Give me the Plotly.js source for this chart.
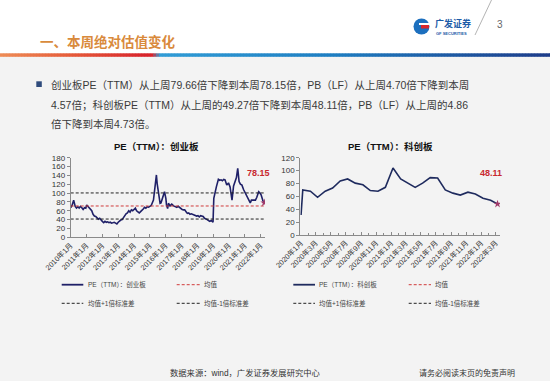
<!DOCTYPE html>
<html><head><meta charset="utf-8">
<script src="https://cdn.plot.ly/plotly-3.0.1.min.js"></script>
<style>html,body{margin:0;padding:0;background:#F3F3F3;}#chart{width:550px;height:381px;}</style>
</head><body><div id="chart"></div>
<script>
// ---------------- DATA ----------------
const cybDates = ['2010-01-04','2010-02-01','2010-03-10','2010-03-25','2010-04-15','2010-05-15','2010-06-15','2010-07-15','2010-08-15','2010-09-15','2010-10-15','2010-11-15','2010-12-15',
'2011-01-05','2011-02-01','2011-03-01','2011-04-01','2011-05-01','2011-06-01','2011-07-01','2011-08-01','2011-09-01','2011-10-01','2011-11-01','2011-12-01',
'2012-01-01','2012-02-01','2012-03-01','2012-04-01','2012-05-01','2012-06-01','2012-07-01','2012-08-01','2012-09-01','2012-10-01','2012-11-01','2012-12-01',
'2013-01-01','2013-02-01','2013-03-01','2013-04-01','2013-05-01','2013-06-01','2013-07-01','2013-08-01','2013-09-01','2013-10-01','2013-11-01','2013-12-01',
'2014-01-01','2014-02-01','2014-03-01','2014-04-01','2014-05-01','2014-06-01','2014-07-01','2014-08-01','2014-09-01','2014-10-01','2014-11-01','2014-12-01',
'2015-01-01','2015-02-01','2015-03-25','2015-05-01','2015-06-01','2015-06-20','2015-07-15','2015-08-10','2015-08-25','2015-09-15','2015-10-01','2015-11-01','2015-12-05',
'2016-01-05','2016-01-20','2016-02-15','2016-03-05','2016-04-10','2016-05-20','2016-07-01','2016-08-15','2016-09-15','2016-10-15','2016-11-15','2016-12-15',
'2017-01-15','2017-02-15','2017-03-15','2017-04-15','2017-05-15','2017-06-15','2017-07-15','2017-08-15','2017-09-15','2017-10-15','2017-11-15','2017-12-15',
'2018-01-15','2018-02-15','2018-03-15','2018-04-15','2018-05-15','2018-06-15','2018-07-15','2018-08-15','2018-09-15','2018-10-15','2018-11-15','2018-12-28',
'2019-01-15','2019-02-15','2019-03-15','2019-05-01','2019-06-01','2019-07-01','2019-08-01','2019-09-01','2019-10-01','2019-11-10','2019-12-20',
'2020-01-25','2020-02-20','2020-03-10','2020-04-15','2020-05-25','2020-06-20','2020-07-20','2020-08-20','2020-09-20','2020-10-25','2020-12-01',
'2021-01-10','2021-02-25','2021-04-01','2021-05-05','2021-06-01','2021-07-01','2021-08-01','2021-09-01','2021-10-01','2021-11-15','2021-12-15',
'2022-01-10','2022-02-20','2022-03-25'];
const cybPE = [67,72,84,76,70,66,69,66,70,67,63,67,66,
73,70,68,64,60,52,48,47,44,41,43,38,
36,33,36,34,35,33,34,32,33,34,32,30,
34,37,39,40,45,50,53,55,60,57,62,60,
64,66,60,57,55,58,60,64,68,66,69,68,
70,72,84,110,141,120,107,90,77,78,84,92,103,
88,73,65,77,71,75,71,70,68,70,67,65,
63,62,62,58,54,55,52,53,52,50,49,48,
49,46,49,48,47,43,42,40,38,36,38,34,
88,105,114,131,129,130,128,131,130,118,123,
114,100,84,116,126,135,156,126,120,118,108,
100,92,86,78,84,84,85,84,90,103,100,
96,83,78.15];
const bandNames = ['均值','均值+1倍标准差','均值-1倍标准差'];
const cybBandValues = [70.8, 100.3, 41.3];

const kcbDates = ['2020-01-01','2020-01-08','2020-02-08','2020-03-08','2020-04-08','2020-05-08','2020-06-08','2020-07-08','2020-08-08','2020-09-08','2020-10-08','2020-11-08','2020-12-08',
'2021-01-08','2021-02-08','2021-03-08','2021-04-08','2021-05-08','2021-06-08','2021-07-08','2021-08-08','2021-09-08','2021-10-08','2021-11-08','2021-12-08',
'2022-01-08','2022-02-08','2022-03-08'];
const kcbPE = [31,70,68,58.5,68,73,84,87,80.5,78,69,68,74,104,87,81,74,80.5,89,88.5,70,65,62,66.5,63.5,57,54,48.11];

const chartTitles = ['PE（TTM）：创业板','PE（TTM）：科创板'];
const seriesNames = ['PE（TTM）：创业板','PE（TTM）：科创板'];

// ---------------- LAYOUT HELPERS ----------------
const W = 550, H = 381;
const px = x => x / W, py = y => 1 - y / H;
const latin = 'Liberation Sans, Arial, Noto Sans CJK SC, sans-serif';
const cjk = 'Noto Sans CJK SC, Liberation Sans, sans-serif';
const navy = '#1F2068', red = '#D03A3A';
const cybRange = ['2010-01-01','2022-04-10'];
const kcbRange = ['2019-12-29','2022-03-18'];

const traces = [];
traces.push({x: cybDates, y: cybPE, xaxis:'x', yaxis:'y', type:'scatter', mode:'lines', line:{color:navy, width:1.6}, hoverinfo:'skip'});
const bandColors = [red, '#222', '#222'];
cybBandValues.forEach((v,i)=>{
  traces.push({x: cybRange, y:[v,v], xaxis:'x', yaxis:'y', type:'scatter', mode:'lines', line:{color:bandColors[i], width:1, dash:'3px,2px'}, hoverinfo:'skip'});
});
traces.push({x:[cybDates[cybDates.length-1]], y:[cybPE[cybPE.length-1]], xaxis:'x', yaxis:'y', type:'scatter', mode:'markers', marker:{symbol:'star', size:6, color:'#A03A6A'}, hoverinfo:'skip'});
traces.push({x: kcbDates, y: kcbPE, xaxis:'x2', yaxis:'y2', type:'scatter', mode:'lines', line:{color:'#1F2B5E', width:1.6}, hoverinfo:'skip'});
traces.push({x:[kcbDates[kcbDates.length-1]], y:[kcbPE[kcbPE.length-1]], xaxis:'x2', yaxis:'y2', type:'scatter', mode:'markers', marker:{symbol:'star', size:6, color:'#A03A6A'}, hoverinfo:'skip'});

const shapes = [];
// white header
shapes.push({type:'rect', xref:'paper', yref:'paper', x0:0, x1:1, y0:py(53.5), y1:1, fillcolor:'#FFFFFF', line:{width:0}, layer:'below'});
// gradient bar
const stops = [[0,[238,140,86]],[70,[230,92,58]],[145,[216,36,44]],[152,[216,36,44]],[160,[48,156,214]],[330,[30,126,194]],[550,[30,60,138]]];
function colAt(x){
  for(let i=0;i<stops.length-1;i++){
    const [a,ca]=stops[i],[b,cb]=stops[i+1];
    if(x>=a && x<=b){const t=(x-a)/(b-a);return 'rgb('+ca.map((c,k)=>Math.round(c+(cb[k]-c)*t)).join(',')+')';}
  }
  return 'rgb(30,60,138)';
}
for(let x=0;x<W;x+=3){
  shapes.push({type:'rect', xref:'paper', yref:'paper', x0:px(x), x1:px(x+3.3), y0:py(56.8), y1:py(53.3), fillcolor:colAt(x+1.5), line:{width:0}});
}
// logo
shapes.push({type:'circle', xref:'paper', yref:'paper', x0:px(413.5), x1:px(429.5), y0:py(34.5), y1:py(18.5), fillcolor:'#1C6FBE', line:{width:0}});
shapes.push({type:'rect', xref:'paper', yref:'paper', x0:px(419), x1:px(430), y0:py(25), y1:py(23), fillcolor:'#FFFFFF', line:{width:0}});
shapes.push({type:'rect', xref:'paper', yref:'paper', x0:px(421), x1:px(429), y0:py(28.5), y1:py(25), fillcolor:'#D9262B', line:{width:0}});
shapes.push({type:'line', xref:'paper', yref:'paper', x0:px(475), x1:px(491.5), y0:py(35), y1:py(0), line:{color:'#A0A0A0', width:0.8}});
// bullet
shapes.push({type:'rect', xref:'paper', yref:'paper', x0:px(36.3), x1:px(41.8), y0:py(87), y1:py(81.3), fillcolor:'#2F4B7C', line:{width:0}});
// legends
function legLine(x0,x1,y,color,dash,w){shapes.push({type:'line', xref:'paper', yref:'paper', x0:px(x0), x1:px(x1), y0:py(y), y1:py(y), line:{color:color, width:w, dash:dash}});}
legLine(61.7,83.3,284.7,navy,'solid',1.8);
legLine(176.7,200,284.7,red,'3px,2px',1);
legLine(61.7,83.3,303.3,'#222','3px,2px',1);
legLine(176.7,200,303.3,'#222','3px,2px',1);
legLine(293.3,315,284.7,'#1F2B5E','solid',1.8);
legLine(408.7,431,284.7,red,'3px,2px',1);
legLine(293.3,315,303.3,'#222','3px,2px',1);
legLine(408.7,431,303.3,'#222','3px,2px',1);

const ann = [];
function txt(x,y,text,size,color,anchor,family,extra){
  ann.push(Object.assign({xref:'paper', yref:'paper', x:px(x), y:py(y), text:text, showarrow:false, xanchor:anchor||'left', yanchor:'middle', font:{size:size, color:color, family:family||cjk}}, extra||{}));
}
txt(38,40.5,'<b>一、本周绝对估值变化</b>',13.5,'#D98A3C','left',cjk);
txt(432.5,23,'<b>广发证券</b>',9,'#1D5CA8','left',cjk);
txt(433.5,33.8,'<b>GF SECURITIES</b>',4,'#1D5CA8','left',latin);
txt(500,25,'3',10,'#666','center',latin);
txt(49,85,'创业板PE（TTM）从上周79.66倍下降到本周78.15倍，PB（LF）从上周4.70倍下降到本周',10.5,'#3A3A3A','left',latin);
txt(49,105,'4.57倍；科创板PE（TTM）从上周的49.27倍下降到本周48.11倍，PB（LF）从上周的4.86',10.5,'#3A3A3A','left',latin);
txt(49,124.5,'倍下降到本周4.73倍。',10.5,'#3A3A3A','left',latin);
txt(156.7,146.5,'<b>'+chartTitles[0]+'</b>',9.5,'#111','center',latin);
txt(390,146,'<b>'+chartTitles[1]+'</b>',9.5,'#111','center',latin);
txt(85.5,284.7,seriesNames[0],6.5,'#444','left',latin);
txt(201.5,284.7,bandNames[0],6.5,'#444','left',latin);
txt(85.5,303.3,bandNames[1],6.5,'#444','left',latin);
txt(201.5,303.3,bandNames[2],6.5,'#444','left',latin);
txt(317,284.7,seriesNames[1],6.5,'#444','left',latin);
txt(433,284.7,bandNames[0],6.5,'#444','left',latin);
txt(317,303.3,bandNames[1],6.5,'#444','left',latin);
txt(433,303.3,bandNames[2],6.5,'#444','left',latin);
txt(245.5,372.7,'数据来源：wind，广发证券发展研究中心',8.3,'#333','center',latin);
txt(467,372.7,'请务必阅读末页的免责声明',8,'#333','center',latin);
// value labels at the last points
ann.push({xref:'x', yref:'y', x:cybDates[cybDates.length-1], y:cybPE[cybPE.length-1], text:'<b>'+cybPE[cybPE.length-1].toFixed(2)+'</b>', showarrow:false, xshift:-6, yshift:30, font:{size:9, color:'#C8282E', family:latin}});
ann.push({xref:'x2', yref:'y2', x:kcbDates[kcbDates.length-1], y:kcbPE[kcbPE.length-1], text:'<b>'+kcbPE[kcbPE.length-1].toFixed(2)+'</b>', showarrow:false, xshift:-7, yshift:31, font:{size:9, color:'#C8282E', family:latin}});

const axisCommon = {showgrid:false, zeroline:false, showline:true, linecolor:'#8A8A8A', linewidth:1, tickcolor:'#8A8A8A', fixedrange:true};
const layout = {
  width:W, height:H, margin:{l:0,r:0,t:0,b:0}, paper_bgcolor:'#F3F3F3', plot_bgcolor:'rgba(0,0,0,0)', showlegend:false,
  xaxis: Object.assign({}, axisCommon, {domain:[px(70.7), px(265)], anchor:'y', type:'date', range:cybRange, tick0:'2010-01-01', dtick:'M12', tickformat:'%Y年%-m月', tickangle:-45, ticks:'inside', ticklen:3, tickfont:{size:7.3, color:'#333', family:latin}}),
  yaxis: Object.assign({}, axisCommon, {domain:[py(237.3), py(157.7)], anchor:'x', range:[0,180], dtick:20, ticks:'outside', ticklen:3, tickfont:{size:8, color:'#333', family:latin}}),
  xaxis2: Object.assign({}, axisCommon, {domain:[px(300.3), px(500)], anchor:'y2', type:'date', range:kcbRange, tick0:'2020-01-01', dtick:'M2', tickformat:'%Y年%-m月', tickangle:-45, ticks:'inside', ticklen:3, minor:{dtick:'M1', ticks:'inside', ticklen:2, tickcolor:'#8A8A8A'}, tickfont:{size:7.3, color:'#333', family:latin}}),
  yaxis2: Object.assign({}, axisCommon, {domain:[py(235), py(157.7)], anchor:'x2', range:[0,120], dtick:20, ticks:'outside', ticklen:3, tickfont:{size:8, color:'#333', family:latin}}),
  shapes: shapes, annotations: ann
};
Plotly.newPlot('chart', traces, layout, {displayModeBar:false, staticPlot:true});
</script></body></html>
